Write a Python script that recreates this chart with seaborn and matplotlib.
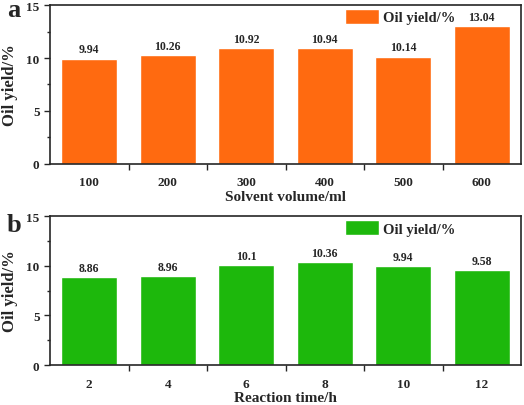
import matplotlib
matplotlib.use('Agg')
import matplotlib.pyplot as plt
from matplotlib.ticker import MultipleLocator, FixedLocator
import seaborn as sns
import pandas as pd

# data
solvent_volume = ['100', '200', '300', '400', '500', '600']
yield_volume = [9.94, 10.26, 10.92, 10.94, 10.14, 13.04]
reaction_time = ['2', '4', '6', '8', '10', '12']
yield_time = [8.86, 8.96, 10.1, 10.36, 9.94, 9.58]
value_labels_a = ['9.94', '10.26', '10.92', '10.94', '10.14', '13.04']
value_labels_b = ['8.86', '8.96', '10.1', '10.36', '9.94', '9.58']

sns.set_theme(style='ticks')
plt.rcParams['font.family'] = ['Liberation Serif', 'DejaVu Serif']
plt.rcParams['font.weight'] = 'bold'

fig = plt.figure(figsize=(5.24, 4.06), dpi=100)
ax1 = fig.add_axes([0.0954, 0.594, 0.899, 0.391])
ax2 = fig.add_axes([0.0954, 0.0985, 0.899, 0.367])

panels = [
    (ax1, solvent_volume, yield_volume, value_labels_a, '#FF6A10', 'Solvent volume/ml', 'a', 0.975),
    (ax2, reaction_time, yield_time, value_labels_b, '#1DB80C', 'Reaction time/h', 'b', 0.445),
]

for ax, cats, vals, labs, color, xlabel, letter, ly in panels:
    df = pd.DataFrame({'x': cats, 'y': vals})
    sns.barplot(data=df, x='x', y='y', ax=ax, color=color, width=0.71,
                saturation=1, label='Oil yield/%')
    for i, (v, t) in enumerate(zip(vals, labs)):
        ax.text(i, v + 0.3, t, ha='center', va='bottom', fontsize=8.5, fontweight='bold')
    ax.set_xlim(-0.5, len(cats) - 0.5)
    ax.set_ylim(0, 15)
    ax.yaxis.set_major_locator(MultipleLocator(5))
    ax.yaxis.set_minor_locator(MultipleLocator(2.5))
    ax.xaxis.set_minor_locator(FixedLocator([k + 0.5 for k in range(len(cats) - 1)]))
    ax.tick_params(axis='x', which='major', length=0, labelsize=9.5, pad=9)
    ax.tick_params(axis='x', which='minor', length=4, width=1, direction='out')
    ax.tick_params(axis='y', which='major', length=4, width=1, labelsize=9.5, direction='out')
    ax.tick_params(axis='y', which='minor', length=2.5, width=1, direction='out')
    for lab in ax.get_xticklabels() + ax.get_yticklabels():
        lab.set_fontweight('bold')
    for s in ax.spines.values():
        s.set_linewidth(1.2)
        s.set_visible(True)
    ax.set_xlabel(xlabel, fontsize=11, fontweight='bold', labelpad=1)
    ax.set_ylabel('Oil yield/%', fontsize=12, fontweight='bold', labelpad=6)
    ax.legend(loc='upper right', bbox_to_anchor=(0.88, 1.03), frameon=False,
              prop={'size': 10.5, 'weight': 'bold'}, handlelength=2.3, handleheight=1.2,
              handletextpad=0.3, borderaxespad=0.2)
    fig.text(0.027, ly, letter, fontsize=19, fontweight='bold', ha='center', va='center')

fig.savefig('out.png', dpi=100)
